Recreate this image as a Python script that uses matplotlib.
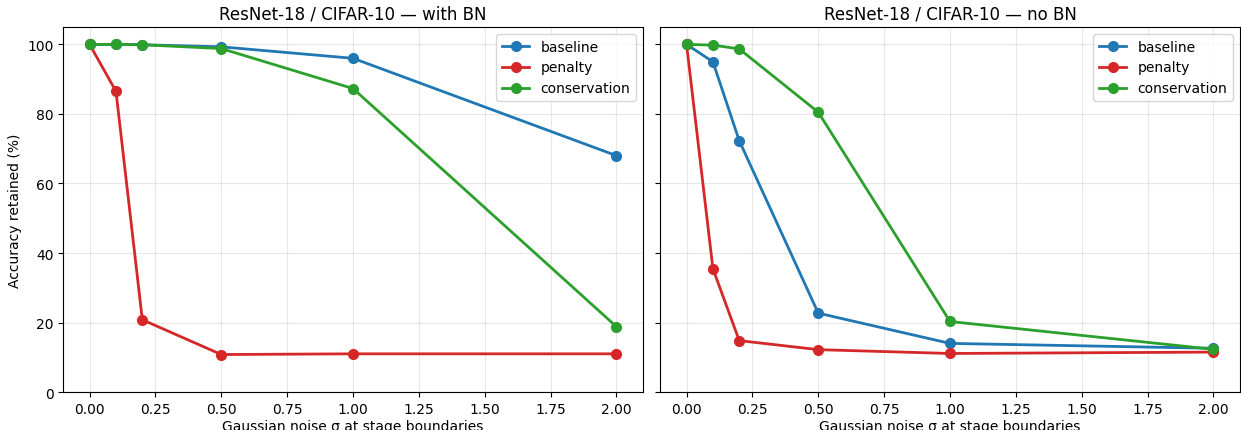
import matplotlib.pyplot as plt
import numpy as np

sigmas = [0.0, 0.1, 0.2, 0.5, 1.0, 2.0]

# with BN
bn_baseline = [100.0, 100.0, 99.9, 99.3, 96.0, 68.0]
bn_penalty = [100.0, 86.5, 20.8, 10.8, 11.0, 11.0]
bn_conservation = [100.0, 100.0, 99.9, 98.8, 87.3, 18.8]

# no BN
nobn_baseline = [100.0, 95.0, 72.3, 22.7, 14.0, 12.6]
nobn_penalty = [100.0, 35.5, 14.8, 12.2, 11.1, 11.5]
nobn_conservation = [100.0, 99.8, 98.7, 80.5, 20.3, 12.3]

titles = ["ResNet-18 / CIFAR-10 \u2014 with BN", "ResNet-18 / CIFAR-10 \u2014 no BN"]
colors = {"baseline": "#1f77b4", "penalty": "#d62728", "conservation": "#2ca02c"}

fig, axes = plt.subplots(1, 2, figsize=(12.41, 4.31), dpi=100, sharey=True)

panels = [
    {"baseline": bn_baseline, "penalty": bn_penalty, "conservation": bn_conservation},
    {"baseline": nobn_baseline, "penalty": nobn_penalty, "conservation": nobn_conservation},
]

for ax, title, data in zip(axes, titles, panels):
    for name in ["baseline", "penalty", "conservation"]:
        ax.plot(sigmas, data[name], marker="o", markersize=7, linewidth=2,
                color=colors[name], label=name)
    ax.set_title(title, fontsize=12)
    ax.set_xlabel("Gaussian noise \u03c3 at stage boundaries", labelpad=2)
    ax.grid(True, alpha=0.3)
    ax.legend(loc="upper right")
    ax.set_ylim(0, 105)

axes[0].set_ylabel("Accuracy retained (%)")

plt.subplots_adjust(left=0.051, right=0.999, bottom=0.088, top=0.935, wspace=0.03)
plt.savefig("out.png")
